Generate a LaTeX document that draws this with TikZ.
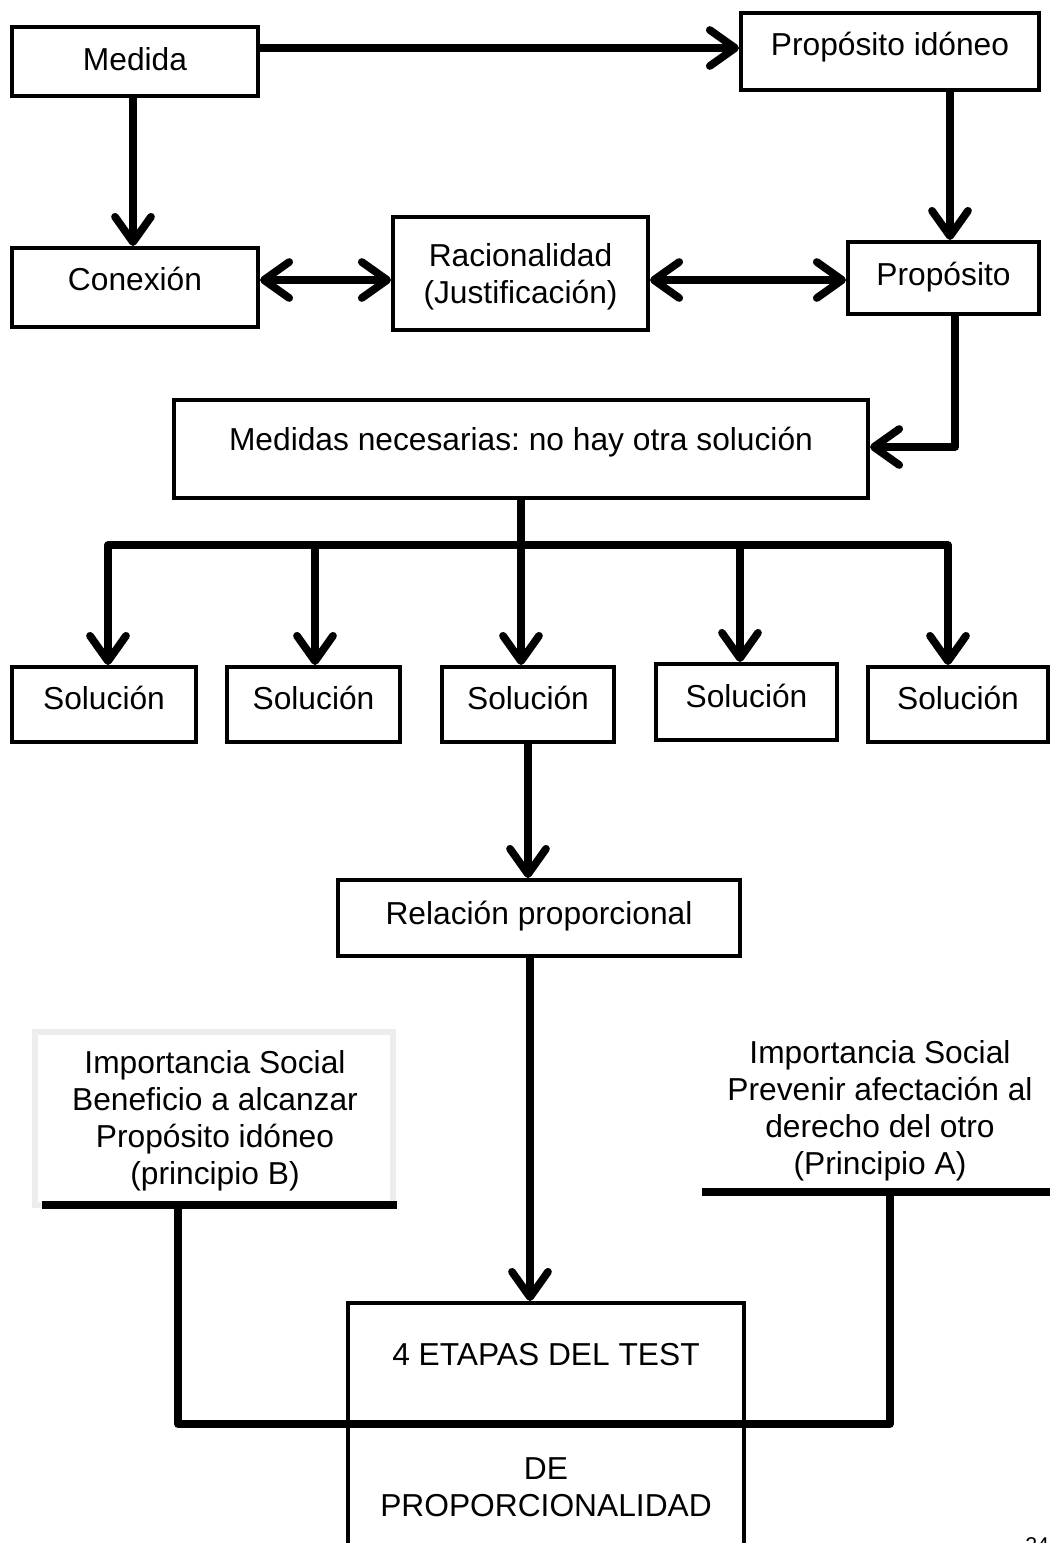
\documentclass[tikz,border=0pt]{standalone}
\usepackage{fontspec}
\setmainfont{Liberation Sans}
\usetikzlibrary{arrows.meta}
\frenchspacing
\begin{document}
\begin{tikzpicture}[x=0.75pt,y=-0.75pt,
  lbl/.style={font=\fontsize{23.8}{27.75}\selectfont\frenchspacing, align=center},
  box/.style={lbl, draw=black, line width=3pt, fill=white, inner sep=0pt},
  bl/.style={text height=24pt, text depth={24pt-2*#1}},
  tip/.tip={Straight Barb[length=19pt,width=27pt,round]},
  line/.style={line width=5.8pt, line join=round},
  conn/.style={line, -tip},
  dconn/.style={line, tip-tip}]
\useasboundingbox (0,0) rectangle (1050,1543);

% boxes
\node[box, bl=7.1pt, minimum width=184.5pt, minimum height=51.75pt] (medida) at (135,61.5) {Medida};
\node[box, bl=2.8pt, minimum width=223.5pt, minimum height=57.75pt] (propid) at (890,51.5) {Propósito idóneo};
\node[box, bl=2.6pt, minimum width=184.5pt, minimum height=59.25pt] (conexion) at (135,287.5) {Conexión};
\node[box, minimum width=191.25pt, minimum height=84.75pt] (racional) at (520.5,273.5) {};
\node[lbl, inner sep=0pt] (racionalT) at (520.5,277) {Racionalidad\\(Justificación)};
\node[box, bl=5.25pt, minimum width=143.25pt, minimum height=54pt] (prop) at (943.5,278) {Propósito};
\node[box, bl=0.75pt, minimum width=520.5pt, minimum height=73.5pt] (medidas) at (521,449) {Medidas necesarias: no hay otra solución};
\node[box, bl=4.1pt, minimum width=138pt, minimum height=56.25pt] (sol1) at (104,704.5) {Solución};
\node[box, bl=4.1pt, minimum width=129.75pt, minimum height=56.25pt] (sol2) at (313.5,704.5) {Solución};
\node[box, bl=4.1pt, minimum width=129pt, minimum height=56.25pt] (sol3) at (528,704.5) {Solución};
\node[box, bl=3.75pt, minimum width=135.75pt, minimum height=57pt] (sol4) at (746.5,702) {Solución};
\node[box, bl=4.1pt, minimum width=135pt, minimum height=56.25pt] (sol5) at (958,704.5) {Solución};
\node[box, bl=4.5pt, minimum width=301.5pt, minimum height=57pt] (relacion) at (539,918) {Relación proporcional};
\node[box, bl=1.9pt, minimum width=297pt, minimum height=89.25pt] (etapas) at (546,1362.5) {4 ETAPAS DEL TEST};
\node[box, minimum width=297pt, minimum height=103.5pt] (dep) at (546,1491) {};
\node[lbl, inner sep=0pt] (depT) at (546,1487.5) {DE\\PROPORCIONALIDAD};

% side texts
\node[draw=black!7, line width=4pt, minimum width=268.5pt, minimum height=129.75pt, inner sep=0pt] (impBbox) at (214,1118.5) {};
\node[lbl, inner sep=0pt] (impB) at (215,1121)
  {Importancia Social\\Beneficio a alcanzar\\Propósito idóneo\\(principio B)};
\node[lbl, inner sep=0pt] (impA) at (880,1110.5)
  {Importancia Social\\Prevenir afectación al\\derecho del otro\\(Principio A)};
\node[anchor=north west, font=\fontsize{16}{16}\selectfont, inner sep=0pt] (pg) at (1025,1537) {24};

% helper coordinates
\coordinate (y48) at (0,48);
\coordinate (y280) at (0,280);
\coordinate (x133) at (133,0);
\coordinate (x950) at (950,0);
\coordinate (x955) at (955,0);
\coordinate (y447) at (0,447);
\coordinate (b1) at (108,545);
\coordinate (b2) at (315,545);
\coordinate (b3) at (521,545);
\coordinate (b4) at (740,545);
\coordinate (b5) at (948,545);
\coordinate (x530) at (530,0);
\coordinate (lbL) at (42,1205);
\coordinate (lbR) at (397,1205);
\coordinate (lj) at (178,1205);
\coordinate (rbL) at (702,1192);
\coordinate (rbR) at (1050,1192);
\coordinate (rj) at (890,1192);

% connectors
\draw[conn] (medida.east |- y48) -- (propid.west |- y48);
\draw[conn] (x133 |- medida.south) -- (x133 |- conexion.north);
\draw[conn] (x950 |- propid.south) -- (x950 |- prop.north);
\draw[dconn] (conexion.east |- y280) -- (racional.west |- y280);
\draw[dconn] (racional.east |- y280) -- (prop.west |- y280);
\draw[conn] (x955 |- prop.south) |- (medidas.east |- y447);
\draw[line] (medidas.south) -- (b3);
\draw[conn] (b3) -| (b1 |- sol1.north);
\draw[conn] (b3) -| (b5 |- sol5.north);
\draw[conn] (b2) -- (b2 |- sol2.north);
\draw[conn] (b3) -- (b3 |- sol3.north);
\draw[conn] (b4) -- (b4 |- sol4.north);
\draw[conn] (sol3.south) -- (relacion.north -| sol3.south);
\draw[conn] (x530 |- relacion.south) -- (x530 |- etapas.north);

% brackets
\draw[line] (lbL) -- (lbR);
\draw[line] (rbL) -- (rbR);
\draw[line] (lj) |- (rj |- etapas.south) -- (rj);
\end{tikzpicture}
\end{document}
